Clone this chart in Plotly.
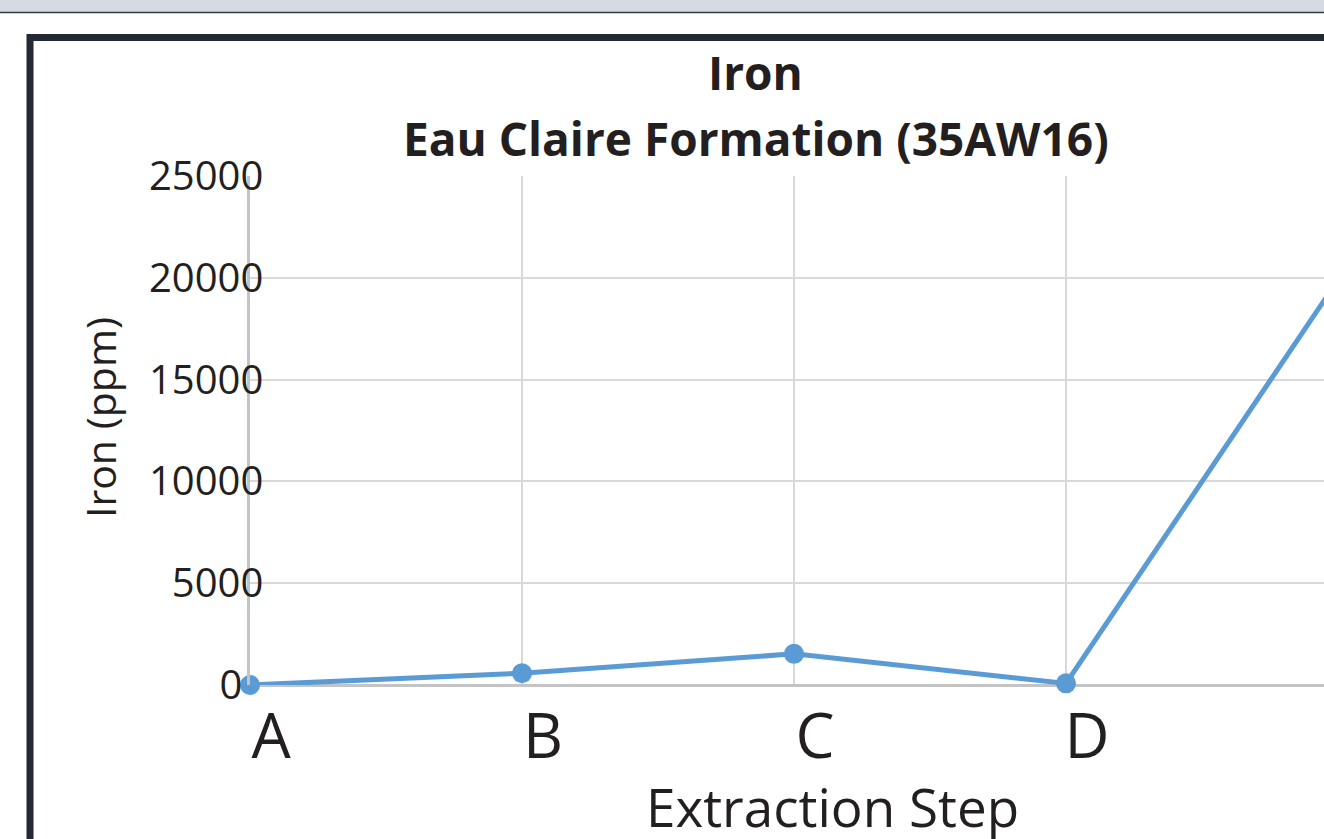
import plotly.graph_objects as go

# extraction steps and iron concentration (ppm); E lies just past the right edge
steps = ["A", "B", "C", "D", "E"]
iron_ppm = [0, 580, 1530, 80, 19900]
y_ticks = [0, 5000, 10000, 15000, 20000, 25000]
y_labels = ["0\u00a0\u00a0", "5000", "10000", "15000", "20000", "25000"]

W, H = 1324, 839
L, R, T, B = 250, 0, 176, 154
PW, PH = W - L - R, H - T - B


def px(x):
    return (x - L) / PW


def py(y):
    return (H - B - y) / PH


def label(text, x, y, size, angle=0):
    return dict(text=text, xref="paper", yref="paper", x=px(x), y=py(y),
                xanchor="center", yanchor="middle", showarrow=False,
                textangle=angle, font=dict(size=size, family="Open Sans"))


fig = go.Figure()
fig.add_trace(go.Scatter(
    x=list(range(len(steps))), y=iron_ppm, mode="lines+markers",
    line=dict(color="#5b9bd5", width=5),
    marker=dict(color="#5b9bd5", size=20),
    cliponaxis=False, showlegend=False,
))

fig.update_layout(
    width=W, height=H,
    margin=dict(l=L, r=R, t=T, b=B),
    paper_bgcolor="white", plot_bgcolor="white",
    font=dict(family="Open Sans", color="#231f20"),
    xaxis=dict(
        range=[0, PW / 272], tickmode="array",
        tickvals=list(range(len(steps))), ticktext=steps,
        tickfont=dict(size=62, family="Open Sans"),
        ticklabelshift=21, ticklabelstandoff=10,
        showgrid=True, gridcolor="#d9d9d9", gridwidth=2,
        showline=False, zeroline=False, ticks="",
    ),
    yaxis=dict(
        range=[0, 25000], tickmode="array", tickvals=y_ticks, ticktext=y_labels,
        tickfont=dict(size=40, family="Open Sans"),
        ticklabelstandoff=-24,
        showgrid=True, gridcolor="#d9d9d9", gridwidth=2,
        showline=True, linecolor="#c4c4c4", linewidth=2.5,
        zeroline=True, zerolinecolor="#c4c4c4", zerolinewidth=2.5,
        ticks="",
    ),
    shapes=[
        dict(type="rect", xref="paper", yref="paper",
             x0=px(-5), x1=px(W + 5), y0=py(12), y1=py(-5),
             fillcolor="#d4dbe2", line=dict(width=0), layer="below"),
        dict(type="line", xref="paper", yref="paper",
             x0=px(-5), x1=px(W + 5), y0=py(12.5), y1=py(12.5),
             line=dict(color="#333a44", width=1.5)),
        dict(type="rect", xref="paper", yref="paper",
             x0=px(30), x1=px(W + 40), y0=py(37.5), y1=py(H + 40),
             line=dict(color="#232a35", width=7), layer="above"),
    ],
    annotations=[
        label("<b>Iron</b>", 755, 72, 46),
        label("<b>Eau Claire Formation (35AW16)</b>", 756, 138, 46),
        label("Extraction Step", 832, 806, 53),
        label("Iron (ppm)", 100, 418, 41, angle=-90),
    ],
)

fig.write_html("out.html", config={"displayModeBar": False},
               post_script="document.body.style.margin='0';")
